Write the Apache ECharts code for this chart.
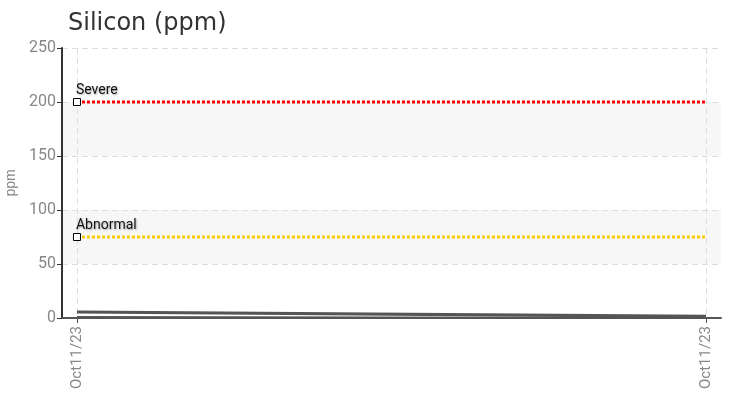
<!DOCTYPE html>
<html>
<head>
<meta charset="utf-8">
<script src="https://cdn.jsdelivr.net/npm/echarts@6/dist/echarts.min.js"></script>
<style>
  html, body { margin: 0; padding: 0; background: #fff; }
  #chart { width: 731px; height: 393px; }
</style>
</head>
<body>
<div id="chart"></div>
<script>
// sample dates (x) and readings
const categories = ["Oct11/23", "Oct11/23"];
const readingA = [6, 2];
const readingB = [5, 1];
const readingC = [1, 0];
const severe = [200, 200];
const abnormal = [75, 75];

const chart = echarts.init(document.getElementById("chart"));

const xy = (arr) => arr.map((v, i) => [i, v]);

// limit line: marker + label only on the first point
const limitData = (arr, name) =>
  arr.map((v, i) =>
    i === 0
      ? { value: [i, v], symbol: "rect", label: { show: true, formatter: name } }
      : { value: [i, v], symbol: "none" }
  );

const condensed = "Roboto, sans-serif";

const readingSeries = (arr) => ({
  type: "line",
  data: xy(arr),
  symbol: "none",
  silent: true,
  lineStyle: { color: "#555", width: 2 },
  z: 3,
});

const limitSeries = (arr, name, color) => ({
  type: "line",
  data: limitData(arr, name),
  symbolSize: 7,
  itemStyle: { color: "#fff", borderColor: "#000", borderWidth: 1 },
  lineStyle: { color, width: 3, type: [3, 2] },
  label: {
    position: "top",
    align: "left",
    offset: [-1, 4],
    color: "#111",
    fontFamily: condensed,
    fontSize: 14,
    textShadowColor: "rgba(0,0,0,0.35)",
    textShadowBlur: 2,
    textShadowOffsetX: 1,
    textShadowOffsetY: 1,
  },
  z: 4,
});

const option = {
  animation: false,
  title: {
    text: "Silicon (ppm)",
    left: 63,
    top: 7,
    textStyle: { fontFamily: "DejaVu Sans", fontSize: 24, fontWeight: "normal", color: "#333" },
  },
  grid: { left: 62, right: 10, top: 48, bottom: 75, containLabel: false, outerBoundsMode: "none" },
  xAxis: {
    type: "value",
    min: -0.0238,
    max: 1.0238,
    axisLine: { show: true, onZero: false, lineStyle: { color: "#555", width: 2 } },
    axisTick: { show: true, customValues: [0, 1], length: 5, lineStyle: { color: "#555" } },
    axisLabel: {
      customValues: [0, 1],
      rotate: 90,
      color: "#888",
      fontFamily: condensed,
      fontSize: 15,
      margin: 8,
      formatter: (v) => categories[Math.round(v)],
    },
    splitLine: { show: true, lineStyle: { color: "#ddd", type: [6, 4] } },
  },
  yAxis: {
    type: "value",
    name: "ppm",
    nameLocation: "middle",
    nameGap: 42,
    nameTextStyle: { color: "#888", fontSize: 14 },
    min: 0,
    max: 250,
    interval: 50,
    axisLine: { show: true, onZero: false, lineStyle: { color: "#333", width: 2 } },
    axisTick: { show: true, length: 5, lineStyle: { color: "#333" } },
    axisLabel: { color: "#888", fontFamily: condensed, fontSize: 16, margin: 6 },
    splitLine: { show: true, lineStyle: { color: "#ddd", type: [6, 4] } },
    splitArea: { show: true, areaStyle: { color: ["#fff", "#f7f7f7"] } },
  },
  series: [
    readingSeries(readingC),
    readingSeries(readingB),
    readingSeries(readingA),
    limitSeries(abnormal, "Abnormal", "#ffcc00"),
    limitSeries(severe, "Severe", "#ff0000"),
  ],
};

chart.setOption(option);
</script>
</body>
</html>
